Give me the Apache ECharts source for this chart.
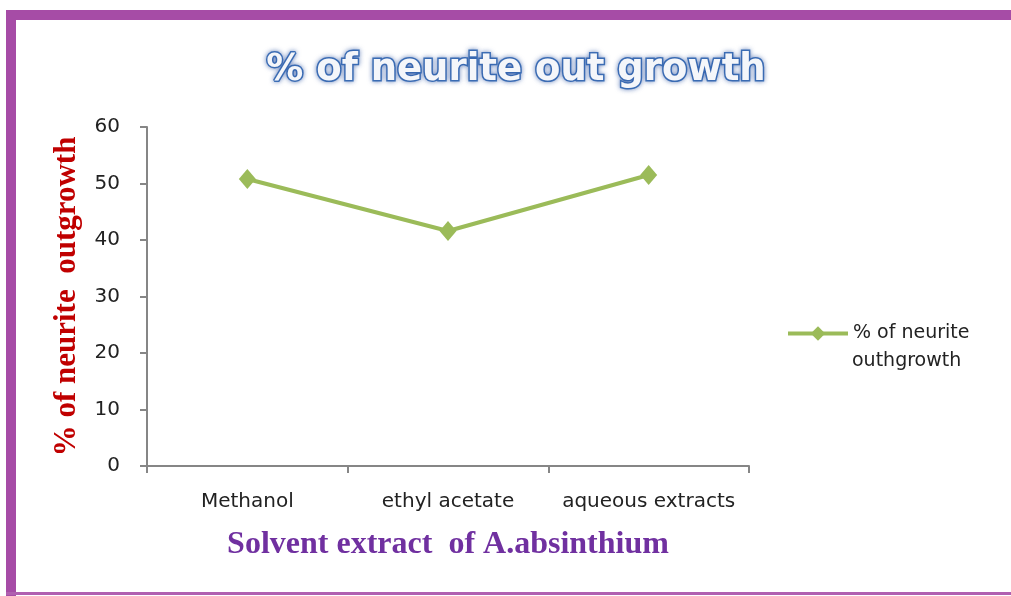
<!DOCTYPE html>
<html>
<head>
<meta charset="utf-8">
<script src="https://cdn.jsdelivr.net/npm/echarts@6/dist/echarts.min.js"></script>
<style>html,body{margin:0;padding:0;background:#fff}#c{width:1011px;height:596px}</style>
</head>
<body>
<div id="c"></div>
<script>
const categories = ['Methanol', 'ethyl acetate', 'aqueous extracts'];
const seriesName = '% of neurite outhgrowth';
const legendLines = ['% of neurite', 'outhgrowth'];
const values = [50.8, 41.6, 51.5];
const yTicks = { min: 0, max: 60, interval: 10 };
const titleText = '% of neurite out growth';
const yName = '% of neurite  outgrowth';
const xName = 'Solvent extract  of A.absinthium';

const chart = echarts.init(document.getElementById('c'));
chart.setOption({
  animation: false,
  backgroundColor: '#fff',
  title: {
    text: titleText,
    left: 511, top: 47, textAlign: 'center',
    textStyle: {
      fontFamily: 'DejaVu Sans', fontWeight: 'bold', fontSize: 37,
      color: '#f4f6fa', textBorderColor: '#3f72b8', textBorderWidth: 3,
      textShadowColor: 'rgba(40,80,160,0.55)', textShadowBlur: 5
    }
  },
  graphic: [
    { type: 'rect', shape: { x: 6, y: 10, width: 1005, height: 10 }, style: { fill: '#a64ca6' } },
    { type: 'rect', shape: { x: 6, y: 10, width: 10, height: 586 }, style: { fill: '#a64ca6' } },
    { type: 'rect', shape: { x: 6, y: 592, width: 1005, height: 3 }, style: { fill: '#b060b0' } },
    { type: 'text', left: 852, top: 352,
      style: { text: legendLines[1], fontFamily: 'DejaVu Sans', fontSize: 19, fill: '#222' } }
  ],
  legend: {
    left: 781, top: 319,
    itemWidth: 60, itemHeight: 18, itemGap: 2,
    data: [{ name: seriesName }],
    lineStyle: { width: 4 },
    formatter: () => legendLines[0],
    textStyle: { fontFamily: 'DejaVu Sans', fontSize: 19, color: '#222' }
  },
  grid: { left: 147, right: 262, top: 127, bottom: 130, containLabel: false },
  xAxis: {
    type: 'category', data: categories, boundaryGap: true,
    name: xName, nameLocation: 'middle', nameGap: 63,
    nameTextStyle: { fontFamily: 'Liberation Serif', fontWeight: 'bold', fontSize: 32, color: '#7030a0' },
    axisLine: { lineStyle: { color: '#868686', width: 2 } },
    axisTick: { show: true, length: 7, lineStyle: { color: '#868686', width: 2 } },
    axisLabel: { interval: 0, margin: 26, fontFamily: 'DejaVu Sans', fontSize: 20, color: '#222' },
    splitLine: { show: false }
  },
  yAxis: {
    type: 'value', min: yTicks.min, max: yTicks.max, interval: yTicks.interval,
    name: yName, nameLocation: 'middle', nameGap: 65, nameRotate: 90,
    nameTextStyle: { fontFamily: 'Liberation Serif', fontWeight: 'bold', fontSize: 31, color: '#c00000' },
    axisLine: { show: true, lineStyle: { color: '#868686', width: 2 } },
    axisTick: { show: true, length: 7, lineStyle: { color: '#868686', width: 2 } },
    axisLabel: { margin: 27, fontFamily: 'DejaVu Sans', fontSize: 20, color: '#222' },
    splitLine: { show: false }
  },
  series: [{
    name: seriesName, type: 'line', data: values,
    symbol: 'diamond', symbolSize: [17, 20],
    lineStyle: { color: '#9bbb59', width: 4 },
    itemStyle: { color: '#9bbb59' }
  }]
});
</script>
</body>
</html>
